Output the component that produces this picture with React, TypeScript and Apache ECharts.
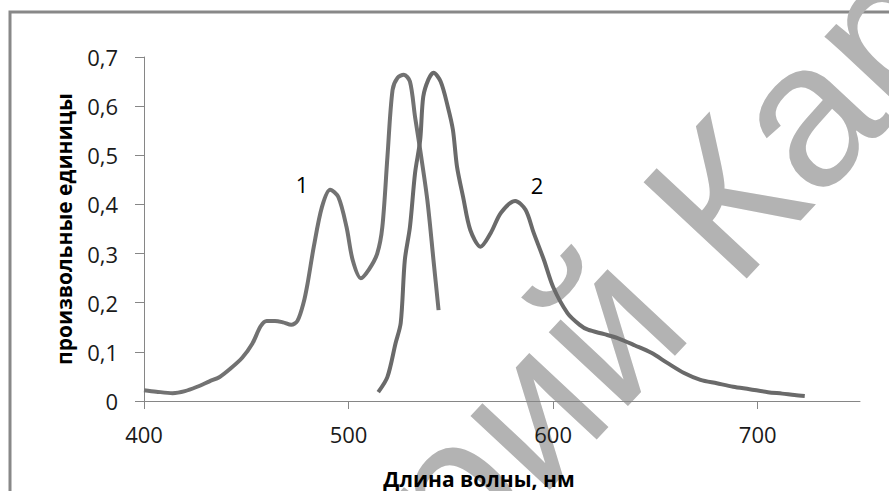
import React, { useEffect, useRef } from "react";
import * as echarts from "echarts";

const xTicks = [400, 500, 600, 700];
const yTicks = [0, 0.1, 0.2, 0.3, 0.4, 0.5, 0.6, 0.7];

const curve1X = [400, 406, 414, 420, 426, 432, 437, 442, 448, 453, 457, 460, 464, 468, 472, 475, 478, 480, 483, 487, 491, 495, 499, 502, 506, 510, 514, 516.5, 519, 521.5, 524, 527, 530, 532.5, 535, 538.5, 541.5, 544];
const curve1Y = [0.022, 0.019, 0.016, 0.02, 0.029, 0.04, 0.049, 0.065, 0.088, 0.117, 0.152, 0.163, 0.163, 0.16, 0.155, 0.163, 0.2, 0.24, 0.314, 0.395, 0.43, 0.415, 0.354, 0.287, 0.25, 0.268, 0.3, 0.354, 0.497, 0.633, 0.658, 0.664, 0.65, 0.578, 0.511, 0.409, 0.287, 0.185];

const curve2X = [514.5, 519, 523, 525.5, 527.5, 530, 532.5, 535, 536.5, 539, 541.5, 545, 548.5, 551, 553, 556, 559.5, 564.5, 569.5, 574.5, 581.5, 586.5, 590.5, 595.5, 600, 607, 613, 617, 625, 631.5, 640, 648, 656, 664, 672, 680, 688, 696, 705, 712, 718, 723];
const curve2Y = [0.018, 0.049, 0.118, 0.159, 0.287, 0.354, 0.464, 0.531, 0.619, 0.654, 0.668, 0.65, 0.599, 0.552, 0.477, 0.415, 0.348, 0.314, 0.342, 0.383, 0.407, 0.389, 0.342, 0.287, 0.232, 0.179, 0.155, 0.145, 0.136, 0.128, 0.113, 0.098, 0.077, 0.057, 0.043, 0.036, 0.029, 0.024, 0.018, 0.015, 0.012, 0.01];

const curveLabels = ["1", "2"];
const xAxisTitle = "Длина волны, нм";
const yAxisTitle = "произвольные единицы";
const watermarkA = "рий";
const watermarkB = "Кар";

export default function App() {
  const ref = useRef<HTMLDivElement>(null);
  useEffect(() => {
    if (!ref.current) return;
    const chart = echarts.init(ref.current, null, { renderer: "svg" });
    const rot = (47 * Math.PI) / 180;
    const font = "Open Sans";
    chart.setOption({
      animation: false,
      backgroundColor: "#ffffff",
      grid: { left: 144, right: 29, top: 57, bottom: 90, containLabel: false },
      xAxis: {
        type: "value",
        min: 400,
        max: 750,
        interval: 100,
        splitLine: { show: false },
        axisLine: { lineStyle: { color: "#868686", width: 1 } },
        axisTick: { show: true, length: 8, lineStyle: { color: "#868686" }, customValues: xTicks },
        axisLabel: { margin: 22, fontSize: 22, fontFamily: font, color: "#1a1a1a", customValues: xTicks },
      },
      yAxis: {
        type: "value",
        min: 0,
        max: 0.7,
        interval: 0.1,
        name: yAxisTitle,
        nameLocation: "middle",
        nameGap: 70,
        nameTextStyle: { fontSize: 21, fontWeight: "bold", fontFamily: font, color: "#000" },
        splitLine: { show: false },
        axisLine: { show: true, lineStyle: { color: "#868686", width: 1 } },
        axisTick: { show: true, length: 9, lineStyle: { color: "#868686" }, customValues: yTicks },
        axisLabel: {
          margin: 26,
          fontSize: 22,
          fontFamily: font,
          color: "#1a1a1a",
          customValues: yTicks,
          formatter: (v: number) => (v === 0 ? "0" : v.toFixed(1).replace(".", ",")),
        },
      },
      graphic: [
        {
          type: "rect",
          shape: { x: 10, y: 12, width: 1000, height: 1000 },
          style: { fill: "none", stroke: "#888888", lineWidth: 3 },
          z: 0,
        },
        {
          type: "text",
          x: 644,
          y: 284,
          rotation: rot,
          z: 0,
          style: {
            text: watermarkA,
            fontSize: 205,
            fontFamily: "Liberation Sans",
            fill: "#b3b3b3",
            align: "right",
            verticalAlign: "middle",
          },
        },
        {
          type: "text",
          x: 683,
          y: 242,
          rotation: rot,
          z: 0,
          style: {
            text: watermarkB,
            fontSize: 205,
            fontFamily: "Liberation Sans",
            fill: "#b3b3b3",
            align: "left",
            verticalAlign: "middle",
          },
        },
        {
          type: "text",
          x: 479,
          y: 479,
          z: 10,
          style: {
            text: xAxisTitle,
            fontSize: 21,
            fontWeight: "bold",
            fontFamily: font,
            fill: "#000",
            align: "center",
            verticalAlign: "middle",
          },
        },
        {
          type: "text",
          x: 302,
          y: 184,
          z: 10,
          style: { text: curveLabels[0], fontSize: 22, fontFamily: font, fill: "#000", align: "center", verticalAlign: "middle" },
        },
        {
          type: "text",
          x: 537,
          y: 185,
          z: 10,
          style: { text: curveLabels[1], fontSize: 22, fontFamily: font, fill: "#000", align: "center", verticalAlign: "middle" },
        },
      ],
      series: [
        {
          type: "line",
          data: curve1X.map((x, i) => [x, curve1Y[i]]),
          showSymbol: false,
          smooth: 0.3,
          lineStyle: { color: "#727272", width: 4 },
          z: 5,
        },
        {
          type: "line",
          data: curve2X.map((x, i) => [x, curve2Y[i]]),
          showSymbol: false,
          smooth: 0.3,
          lineStyle: { color: "#6a6a6a", width: 4 },
          z: 5,
        },
      ],
    });
    return () => chart.dispose();
  }, []);
  return <div ref={ref} style={{ position: "fixed", left: 0, top: 0, width: 889, height: 491 }} />;
}
